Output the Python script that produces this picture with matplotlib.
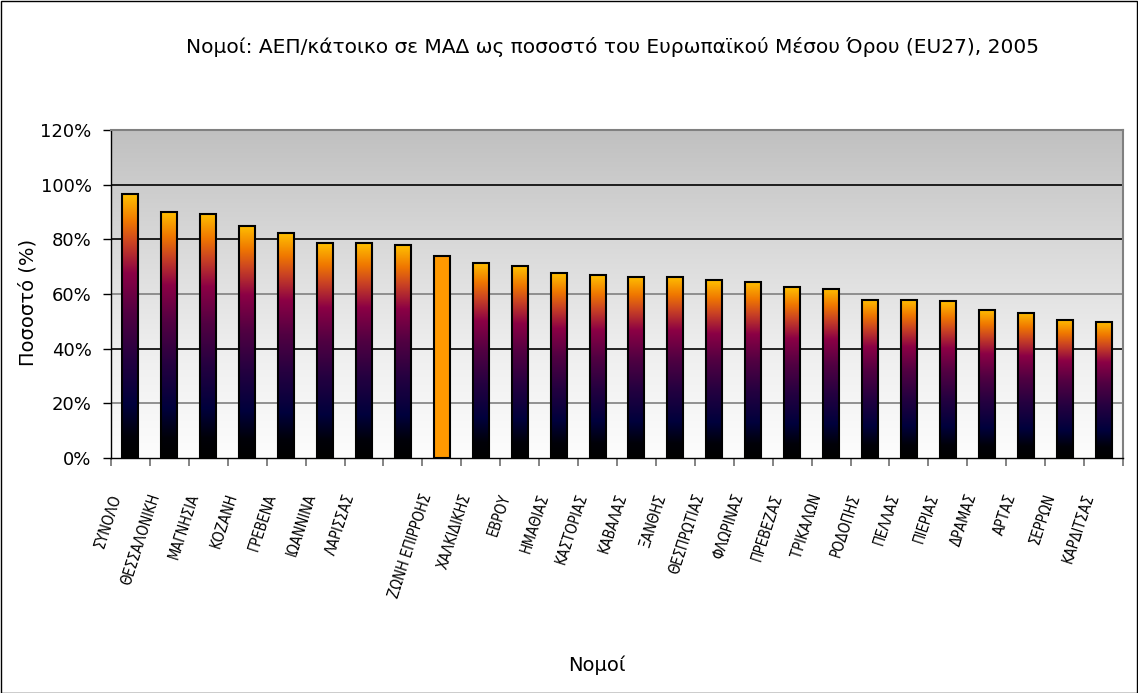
import numpy as np
import matplotlib
matplotlib.use("Agg")
import matplotlib.pyplot as plt
from matplotlib.colors import LinearSegmentedColormap
from matplotlib.patches import Rectangle
import matplotlib.transforms as mtransforms

categories = ["ΣΥΝΟΛΟ", "ΘΕΣΣΑΛΟΝΙΚΗ", "ΜΑΓΝΗΣΙΑ", "ΚΟΖΑΝΗ", "ΓΡΕΒΕΝΑ",
              "ΙΩΑΝΝΙΝΑ", "ΛΑΡΙΣΣΑΣ", "", "ΖΩΝΗ ΕΠΙΡΡΟΗΣ", "ΧΑΛΚΙΔΙΚΗΣ",
              "ΕΒΡΟΥ", "ΗΜΑΘΙΑΣ", "ΚΑΣΤΟΡΙΑΣ", "ΚΑΒΑΛΑΣ", "ΞΑΝΘΗΣ",
              "ΘΕΣΠΡΩΤΙΑΣ", "ΦΛΩΡΙΝΑΣ", "ΠΡΕΒΕΖΑΣ", "ΤΡΙΚΑΛΩΝ", "ΡΟΔΟΠΗΣ",
              "ΠΕΛΛΑΣ", "ΠΙΕΡΙΑΣ", "ΔΡΑΜΑΣ", "ΑΡΤΑΣ", "ΣΕΡΡΩΝ", "ΚΑΡΔΙΤΣΑΣ"]
values = [96.5, 90.1, 89.4, 84.9, 82.3, 78.6, 78.6, 77.8, 73.9, 71.5,
          70.1, 67.6, 66.8, 66.3, 66.3, 65.0, 64.5, 62.4, 61.9, 57.9,
          57.9, 57.4, 54.2, 53.1, 50.5, 49.8]
highlight = "ΖΩΝΗ ΕΠΙΡΡΟΗΣ"
yticks = [0, 20, 40, 60, 80, 100, 120]
ytick_labels = ["0%", "20%", "40%", "60%", "80%", "100%", "120%"]
title = "Νομοί: ΑΕΠ/κάτοικο σε ΜΑΔ ως ποσοστό του Ευρωπαϊκού Μέσου Όρου (EU27), 2005"

plt.rcParams['font.family'] = ['DejaVu Sans']

fig = plt.figure(figsize=(11.38, 6.93), dpi=100)
ax = fig.add_axes([111/1138, 1 - 458/693, (1123 - 111)/1138, (458 - 130)/693])

n = len(categories)
x = np.arange(n)
xlim = (-0.5, n - 0.5)
ylim = (0, 120)

# background gradient
bg = np.linspace(0, 1, 256).reshape(-1, 1)
bg_cmap = LinearSegmentedColormap.from_list("bg", ["#fdfdfd", "#eeeeee", "#d8d8d8", "#c0c0c0"])
ax.imshow(bg, cmap=bg_cmap, extent=[xlim[0], xlim[1], 0, 120], origin="lower",
          aspect="auto", zorder=0)

# gridlines
grid_colors = {20: "#808080", 40: "#000000", 60: "#808080", 80: "#000000", 100: "#000000"}
for yv, c in grid_colors.items():
    ax.axhline(yv, color=c, lw=1.2, zorder=1)

bar_cmap = LinearSegmentedColormap.from_list(
    "bar", [(0.0, "#000000"), (0.08, "#000008"), (0.2, "#00003c"), (0.38, "#250040"),
            (0.55, "#520042"), (0.7, "#8b0045"), (0.82, "#cc4522"), (0.9, "#f07800"),
            (1.0, "#ffc000")])
grad = np.linspace(0, 1, 256).reshape(-1, 1)
width = 0.41
bars = ax.bar(x, values, width=width, facecolor="none", edgecolor="black", lw=1.5, zorder=3)
for xi, v, cat, b in zip(x, values, categories, bars):
    if cat == highlight:
        b.set_facecolor("#ff9900")
    else:
        ax.imshow(grad, cmap=bar_cmap, extent=[xi - width/2, xi + width/2, 0, v],
                  origin="lower", aspect="auto", zorder=2)

ax.set_xlim(*xlim)
ax.set_ylim(*ylim)
ax.set_yticks(yticks)
ax.set_yticklabels(ytick_labels, fontsize=13)
ax.tick_params(axis="y", direction="out", length=6, width=1, pad=8, colors="black")

# x ticks at category boundaries
ax.set_xticks(np.arange(n + 1) - 0.5)
ax.set_xticklabels([])
ax.tick_params(axis="x", which="major", direction="out", length=6, width=1.2, color="#707070")
ax.set_xticks(x, minor=True)
ax.set_xticklabels(categories, minor=True, rotation=72, ha="right", va="center",
                   rotation_mode="anchor", fontsize=10.5, fontstretch="condensed")
ax.tick_params(axis="x", which="minor", length=0, pad=26)
offset = mtransforms.ScaledTranslation(-14/100, 0, fig.dpi_scale_trans)
for lbl in ax.get_xticklabels(minor=True):
    lbl.set_transform(lbl.get_transform() + offset)

for s in ["top", "right"]:
    ax.spines[s].set_color("#808080")
    ax.spines[s].set_linewidth(1.5)
for s in ["left", "bottom"]:
    ax.spines[s].set_color("black")
    ax.spines[s].set_linewidth(1)

fig.text(612/1138, 1 - 47/693, title, ha="center", va="center", fontsize=14.5)
fig.text(28/1138, 1 - 302/693, "Ποσοστό (%)", rotation=90, ha="center", va="center", fontsize=14)
fig.text(597/1138, 1 - 665/693, "Νομοί", ha="center", va="center", fontsize=14)

fig.patches.append(Rectangle((0.5/1138, 0.5/693), 1 - 1.5/1138, 1 - 1.5/693,
                             transform=fig.transFigure, fill=False, edgecolor="black", lw=1))

fig.savefig("out.png", dpi=100)
